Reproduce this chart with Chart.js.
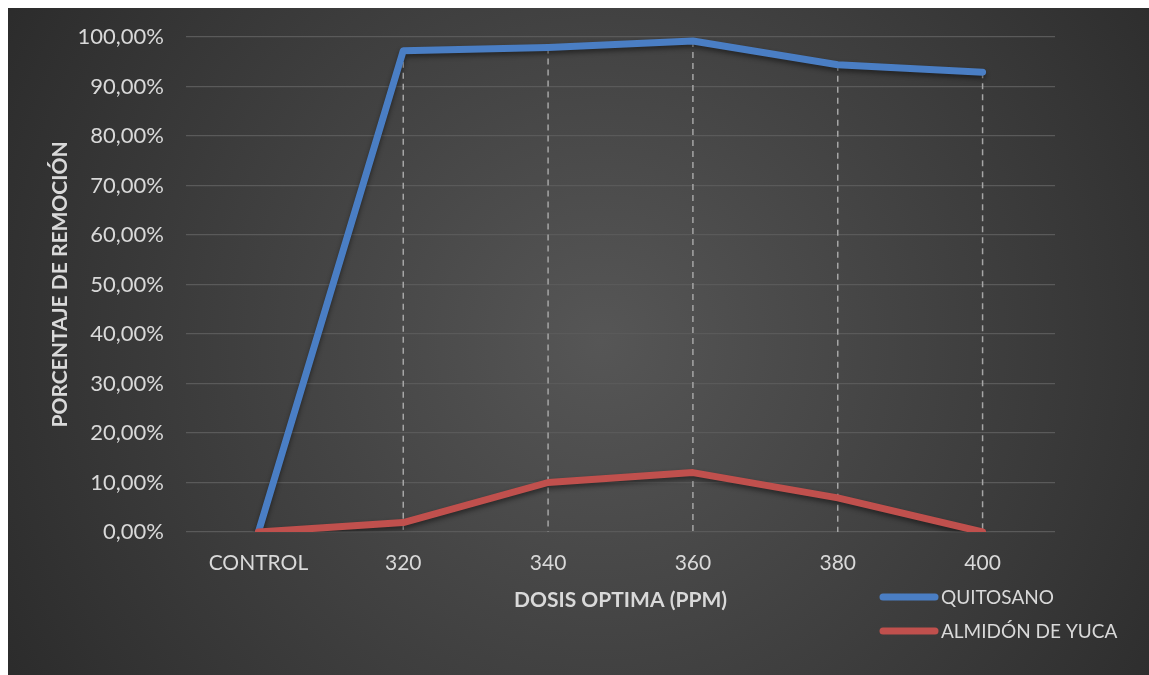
<!DOCTYPE html>
<html>
<head>
<meta charset="utf-8">
<script src="https://cdn.jsdelivr.net/npm/chart.js@4"></script>
<style>
  html, body { margin: 0; padding: 0; background: #fff; }
  #wrap { position: absolute; left: 8px; top: 8px; width: 1141px; height: 667px; }
</style>
</head>
<body>
<div id="wrap"><canvas id="myChart"></canvas></div>
<script>
const categories = ['CONTROL', '320', '340', '360', '380', '400'];
const quitosano = [0, 97.2, 97.9, 99.2, 94.4, 92.9];
const almidon = [0, 1.9, 10.0, 12.0, 6.9, 0];
const seriesNames = ['QUITOSANO', 'ALMIDÓN DE YUCA'];
const seriesColors = ['#4a7ec4', '#c0504d'];

const textColor = '#d9d9d9';
const fontFamily = 'Lato, "Open Sans", sans-serif';

// dark radial background like the office theme
const bgPlugin = {
  id: 'bg',
  beforeDraw(chart) {
    const ctx = chart.ctx;
    const w = chart.width, h = chart.height;
    const g = ctx.createRadialGradient(w * 0.52, h * 0.5, 0, w * 0.52, h * 0.5, w * 0.62);
    g.addColorStop(0, '#565656');
    g.addColorStop(1, '#2a2a2a');
    ctx.save();
    ctx.fillStyle = g;
    ctx.fillRect(0, 0, w, h);
    ctx.restore();
  }
};

// dashed drop lines from the highest point of each category down to the axis
const dropLines = {
  id: 'dropLines',
  beforeDatasetsDraw(chart) {
    const ctx = chart.ctx;
    const x = chart.scales.x, y = chart.scales.y;
    ctx.save();
    ctx.strokeStyle = '#a6a6a6';
    ctx.lineWidth = 1.5;
    ctx.setLineDash([6, 5]);
    categories.forEach((c, i) => {
      const top = Math.max(quitosano[i], almidon[i]);
      if (top <= 0) return;
      const px = x.getPixelForValue(i);
      ctx.beginPath();
      ctx.moveTo(px, y.getPixelForValue(top));
      ctx.lineTo(px, y.getPixelForValue(0));
      ctx.stroke();
    });
    ctx.restore();
    // soft shadow under the lines
    ctx.save();
    ctx.shadowColor = 'rgba(0,0,0,0.45)';
    ctx.shadowBlur = 5;
    ctx.shadowOffsetY = 3;
  },
  afterDatasetsDraw(chart) {
    chart.ctx.restore();
  }
};

const legendPlugin = {
  id: 'customLegend',
  afterDraw(chart) {
    const ctx = chart.ctx;
    ctx.save();
    ctx.font = '19px ' + fontFamily;
    ctx.textBaseline = 'middle';
    ctx.lineCap = 'round';
    ctx.lineWidth = 7;
    seriesNames.forEach((name, i) => {
      const yy = 589 + i * 34;
      ctx.strokeStyle = seriesColors[i];
      ctx.beginPath();
      ctx.moveTo(875, yy);
      ctx.lineTo(927, yy);
      ctx.stroke();
      ctx.fillStyle = textColor;
      ctx.fillText(name, 933, yy + 1);
    });
    ctx.restore();
  }
};

new Chart('myChart', {
  type: 'line',
  data: {
    labels: categories,
    datasets: [
      { label: seriesNames[0], data: quitosano, borderColor: seriesColors[0], order: 1 },
      { label: seriesNames[1], data: almidon, borderColor: seriesColors[1], order: 0 }
    ]
  },
  options: {
    responsive: true,
    maintainAspectRatio: false,
    animation: false,
    layout: { padding: { left: 40, right: 94, top: 29, bottom: 62 } },
    elements: {
      line: { borderWidth: 7, tension: 0, borderCapStyle: 'round', borderJoinStyle: 'round' },
      point: { radius: 0, hoverRadius: 0 }
    },
    plugins: {
      legend: { display: false },
      tooltip: { enabled: false }
    },
    scales: {
      x: {
        offset: true,
        grid: { display: false },
        border: { display: false },
        ticks: { color: textColor, font: { family: fontFamily, size: 21 }, padding: 11, maxRotation: 0 },
        title: { display: true, text: 'DOSIS OPTIMA (PPM)', color: textColor, font: { family: fontFamily, size: 21, weight: 'bold' }, padding: 0 },
        afterFit(scale) { scale.height = 81; }
      },
      y: {
        min: 0,
        max: 100,
        ticks: {
          stepSize: 10,
          color: textColor,
          font: { family: fontFamily, size: 22 },
          padding: 22,
          callback: v => v.toFixed(2).replace('.', ',') + '%'
        },
        grid: { color: '#5a5a5a', lineWidth: 1.2, drawTicks: false },
        border: { display: false },
        title: { display: true, text: 'PORCENTAJE DE REMOCIÓN', color: textColor, font: { family: fontFamily, size: 21, weight: 'bold' }, padding: 0 },
        afterFit(scale) {
          scale.width = 138;
          scale.paddingTop = 0;
          scale.paddingBottom = 0;
        }
      }
    }
  },
  plugins: [bgPlugin, dropLines, legendPlugin]
});
</script>
</body>
</html>
